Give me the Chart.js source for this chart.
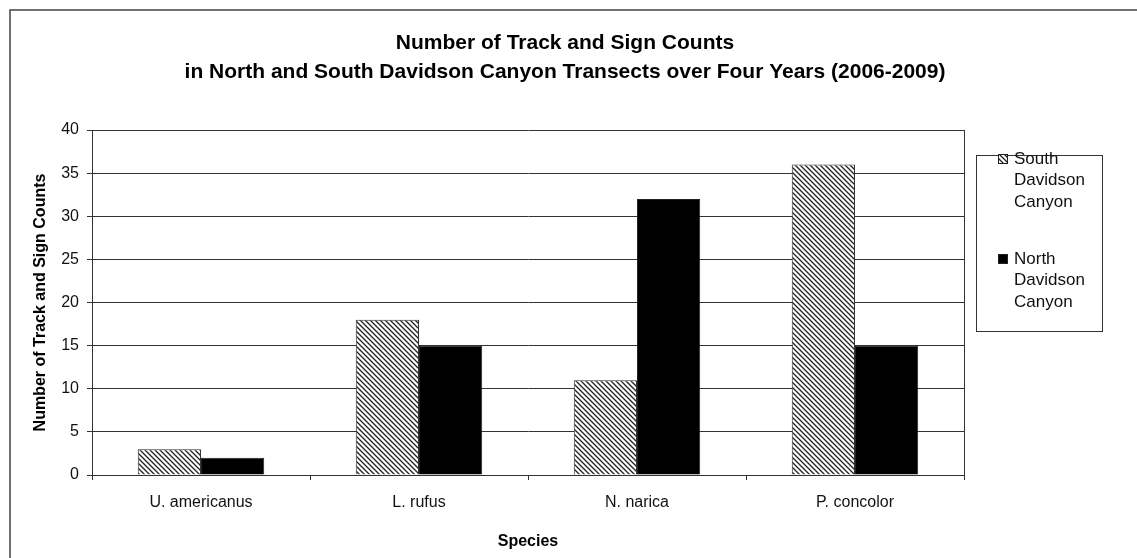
<!DOCTYPE html>
<html>
<head>
<meta charset="utf-8">
<script src="https://cdn.jsdelivr.net/npm/chart.js@4.4.1/dist/chart.umd.min.js"></script>
<style>
  html, body { margin: 0; padding: 0; background: #fff; }
  #wrap { width: 1137px; height: 558px; position: relative; }
</style>
</head>
<body>
<div id="wrap"><canvas id="chart"></canvas></div>
<script>
// Дані графіка
const categories = ['U. americanus', 'L. rufus', 'N. narica', 'P. concolor'];
const southValues = [3, 18, 11, 36];
const northValues = [2, 15, 32, 15];
const seriesNames = ['South Davidson Canyon', 'North Davidson Canyon'];
const titleLines = ['Number of Track and Sign Counts', 'in North and South Davidson Canyon Transects over Four Years (2006-2009)'];
const yTitle = 'Number of Track and Sign Counts';
const xTitle = 'Species';

const FONT = '"Liberation Sans", Arial, sans-serif';

// Штрихування для першої серії
function makeHatch() {
    const c = document.createElement('canvas');
    c.width = 5; c.height = 5;
    const g = c.getContext('2d');
    g.fillStyle = '#fff';
    g.fillRect(0, 0, 5, 5);
    g.strokeStyle = '#222';
    g.lineWidth = 1.3;
    g.beginPath();
    g.moveTo(-1, -1); g.lineTo(6, 6);
    g.moveTo(-1, 4); g.lineTo(1, 6);
    g.moveTo(4, -1); g.lineTo(6, 1);
    g.stroke();
    return g.createPattern(c, 'repeat');
}

// Заголовок, рамка, права межа області графіка та легенда
const framePlugin = {
    id: 'frame',
    afterDraw(chart) {
        const ctx = chart.ctx;
        const a = chart.chartArea;
        ctx.save();
        ctx.strokeStyle = '#444';
        ctx.lineWidth = 1.5;
        ctx.beginPath();
        ctx.moveTo(10, 600); ctx.lineTo(10, 10); ctx.lineTo(1200, 10);
        ctx.stroke();

        // заголовок
        ctx.fillStyle = '#000';
        ctx.font = 'bold 21px ' + FONT;
        ctx.textAlign = 'center';
        ctx.textBaseline = 'middle';
        titleLines.forEach((t, i) => ctx.fillText(t, 565, 43 + i * 29));
        ctx.textAlign = 'left';

        ctx.strokeStyle = '#333';
        ctx.lineWidth = 1;
        ctx.beginPath();
        ctx.moveTo(a.right + 0.5, a.top);
        ctx.lineTo(a.right + 0.5, a.bottom + 5);
        ctx.stroke();

        // легенда
        const lx = 976.5, ly = 155.5, lw = 126, lh = 176;
        ctx.strokeStyle = '#333';
        ctx.strokeRect(lx, ly, lw, lh);
        ctx.font = '17px ' + FONT;
        chart.data.datasets.forEach((ds, i) => {
            const y0 = 159 + i * 100;
            ctx.fillStyle = ds.backgroundColor;
            ctx.fillRect(998, y0 - 5, 10, 10);
            ctx.strokeStyle = '#222';
            ctx.strokeRect(998.5, y0 - 4.5, 9, 9);
            ctx.fillStyle = '#111';
            ds.label.split(' ').forEach((w, j) => {
                ctx.fillText(w, 1014, y0 + j * 21.5);
            });
        });
        ctx.restore();
    }
};

document.addEventListener('DOMContentLoaded', () => {
    const ctx = document.getElementById('chart').getContext('2d');
    new Chart(ctx, {
        type: 'bar',
        data: {
            labels: categories,
            datasets: [{
                label: seriesNames[0],
                data: southValues,
                backgroundColor: makeHatch(),
                borderColor: '#333',
                borderWidth: 1
            }, {
                label: seriesNames[1],
                data: northValues,
                backgroundColor: '#000',
                borderColor: '#222',
                borderWidth: 1
            }]
        },
        options: {
            responsive: true,
            maintainAspectRatio: false,
            animation: false,
            layout: { padding: { left: 0, right: 173, top: 130, bottom: 0 } },
            datasets: { bar: { categoryPercentage: 0.58, barPercentage: 1 } },
            plugins: {
                legend: { display: false },
                tooltip: { enabled: false },
                title: { display: false }
            },
            scales: {
                x: {
                    afterFit(s) { s.height = 83; },
                    grid: { display: true, drawOnChartArea: false, offset: true, tickLength: 5, color: '#333' },
                    border: { color: '#333', width: 1 },
                    ticks: { color: '#111', font: { family: FONT, size: 16 }, padding: 13 },
                    title: {
                        display: true, text: xTitle, color: '#000',
                        font: { family: FONT, size: 16, weight: 'bold' },
                        padding: { top: 0, bottom: 7 }
                    }
                },
                y: {
                    min: 0, max: 40,
                    afterFit(s) { s.width = 92; },
                    grid: { color: '#333', tickLength: 5, lineWidth: 1 },
                    border: { color: '#333', width: 1 },
                    ticks: { stepSize: 5, color: '#111', font: { family: FONT, size: 16 }, padding: 8 },
                    title: {
                        display: true, text: yTitle, color: '#000',
                        font: { family: FONT, size: 16, weight: 'bold' },
                        padding: { top: 31, bottom: 0 }
                    }
                }
            }
        },
        plugins: [framePlugin]
    });
});
</script>
</body>
</html>
